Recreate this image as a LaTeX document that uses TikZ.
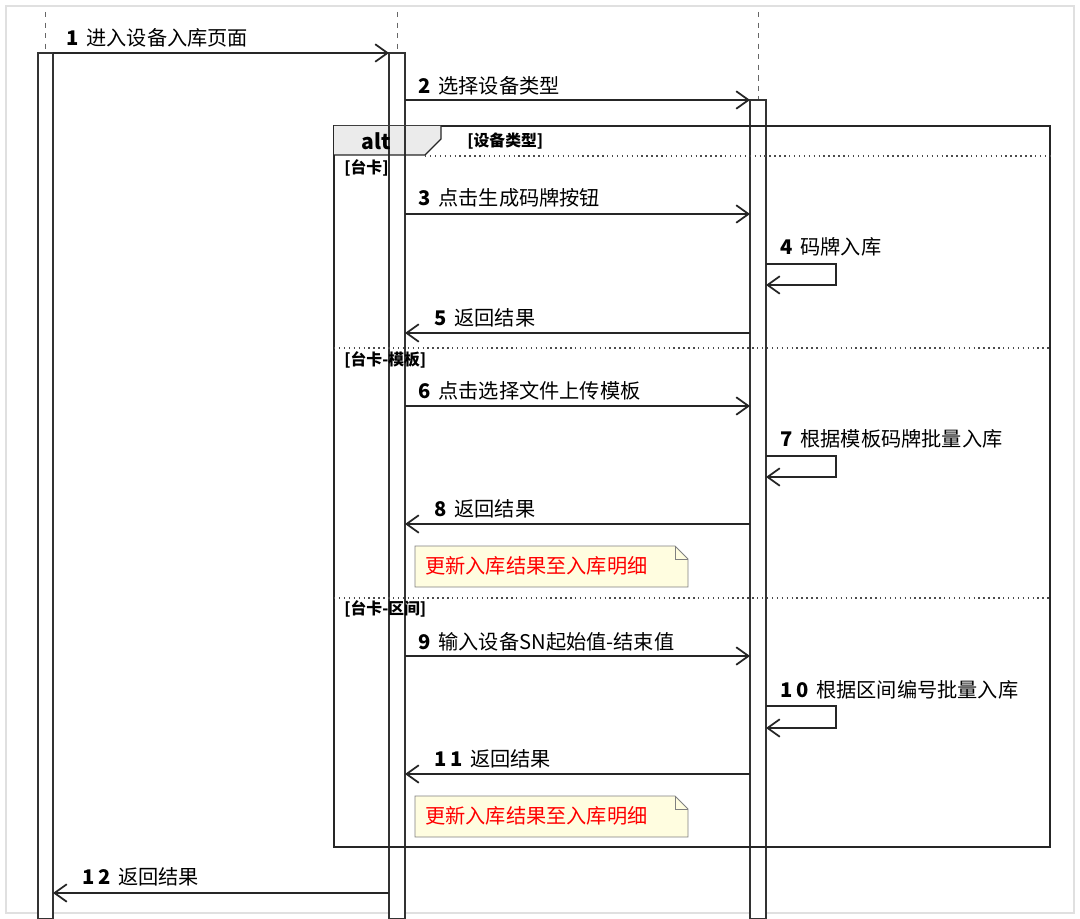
\documentclass[tikz,border=0pt]{standalone}
\usepackage{fontspec}
\setmainfont{Noto Sans CJK SC}
\usetikzlibrary{arrows.meta}
\begin{document}
\begin{tikzpicture}[x=0.02cm,y=-0.02cm,
  msg/.style={draw=black!85,line width=0.7pt,-{Straight Barb[length=7pt,width=10pt,line width=1pt]}},
  lbl/.style={anchor=west,inner sep=0pt,font=\fontsize{11.5pt}{13pt}\selectfont},
  grd/.style={anchor=west,inner sep=0pt,font=\fontsize{9pt}{10pt}\selectfont\bfseries},
  bar/.style={draw=black!80,fill=white,line width=0.7pt},
  life/.style={draw=black!60,dashed,line width=0.5pt},
  sep/.style={draw=black!70,dotted,line width=0.8pt},
  note/.style={draw=black!50,fill=yellow!12,line width=0.5pt}]
\useasboundingbox (0,0) rectangle (1080,919);
\draw[black!12,line width=1pt] (6,6) rectangle (1074,913);
% lifelines
\draw[life] (45,12) -- (45,53);
\draw[life] (397,12) -- (397,53);
\draw[life] (758,12) -- (758,100);
% activation bars
\draw[bar] (38,53) rectangle (53,919);
\draw[bar] (389,53) rectangle (405,919);
\draw[bar] (750,100) rectangle (766,919);
% alt frame
\draw[black!85,line width=1pt] (334,126) rectangle (1050,847);
\fill[black!8] (334,126) -- (441,126) -- (441,139) -- (425,155) -- (334,155) -- cycle;
\draw[black!80,line width=0.7pt] (389,126) -- (389,155) (405,126) -- (405,155);
\draw[black!85,line width=0.8pt] (441,126) -- (441,139) -- (425,155) -- (334,155);
\node[anchor=center,inner sep=0pt,font=\fontsize{12pt}{13pt}\selectfont\bfseries] (alt) at (376,141) {alt};
\node[grd] (g0) at (467,141) {[设备类型]};
\draw[sep] (425,156) -- (1050,156);
\node[grd] (g1) at (344,168) {[台卡]};
\draw[sep] (334,348) -- (1050,348);
\node[grd] (g2) at (344,360) {[台卡-模板]};
\draw[sep] (334,598) -- (1050,598);
\node[grd] (g3) at (344,609) {[台卡-区间]};
% messages
\draw[msg] (53,53) -- (389,53);
\node[lbl] (m1) at (66,38) {\textbf{1}\, 进入设备入库页面};
\draw[msg] (405,100) -- (750,100);
\node[lbl] (m2) at (418,86) {\textbf{2}\, 选择设备类型};
\draw[msg] (405,214) -- (750,214);
\node[lbl] (m3) at (418,198) {\textbf{3}\, 点击生成码牌按钮};
\draw[msg] (766,264) -- (836,264) -- (836,285) -- (766,285);
\node[lbl] (m4) at (780,247) {\textbf{4}\, 码牌入库};
\draw[msg] (750,333) -- (405,333);
\node[lbl] (m5) at (434,318) {\textbf{5}\, 返回结果};
\draw[msg] (405,406) -- (750,406);
\node[lbl] (m6) at (418,391) {\textbf{6}\, 点击选择文件上传模板};
\draw[msg] (766,456) -- (836,456) -- (836,477) -- (766,477);
\node[lbl] (m7) at (780,439) {\textbf{7}\, 根据模板码牌批量入库};
\draw[msg] (750,524) -- (405,524);
\node[lbl] (m8) at (434,509) {\textbf{8}\, 返回结果};
\draw[note] (415,546) -- (675,546) -- (688,559) -- (688,587) -- (415,587) -- cycle;
\draw[black!50,line width=0.5pt] (675,546) -- (675,559) -- (688,559);
\node[lbl,text=red] (n1) at (425,566) {更新入库结果至入库明细};
\draw[msg] (405,656) -- (750,656);
\node[lbl] (m9) at (418,642) {\textbf{9}\, 输入设备SN起始值-结束值};
\draw[msg] (766,706) -- (836,706) -- (836,728) -- (766,728);
\node[lbl] (m10) at (780,690) {\textbf{1\,0}\, 根据区间编号批量入库};
\draw[msg] (750,774) -- (405,774);
\node[lbl] (m11) at (434,759) {\textbf{1\,1}\, 返回结果};
\draw[note] (415,796) -- (675,796) -- (688,809) -- (688,837) -- (415,837) -- cycle;
\draw[black!50,line width=0.5pt] (675,796) -- (675,809) -- (688,809);
\node[lbl,text=red] (n2) at (425,816) {更新入库结果至入库明细};
\draw[msg] (389,893) -- (53,893);
\node[lbl] (m12) at (82,877) {\textbf{1\,2}\, 返回结果};
\end{tikzpicture}
\end{document}
